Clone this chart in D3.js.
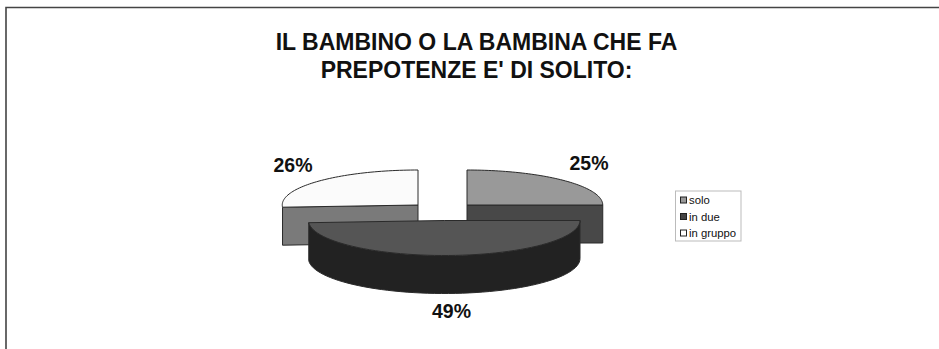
<!DOCTYPE html>
<html>
<head>
<meta charset="utf-8">
<script src="https://cdn.jsdelivr.net/npm/d3@7"></script>
<style>
html, body { margin: 0; padding: 0; background: #fff; }
svg { display: block; }
text { font-family: "Liberation Sans", Arial, sans-serif; fill: #111; }
</style>
</head>
<body>
<svg id="chart" width="939" height="349"></svg>
<script>
const categories = ["solo", "in due", "in gruppo"];
const shares = [25, 49, 26];
const titleLines = ["IL BAMBINO O LA BAMBINA CHE FA", "PREPOTENZE E' DI SOLITO:"];
const topColors = ["#999999", "#555555", "#fbfbfb"];
const wallColors = ["#484848", "#222222", "#7a7a7a"];
const swatchColors = ["#999999", "#444444", "#ffffff"];
// Exploded centre of each slice on the pie's top face
const sliceCentres = [[467, 205], [444.25, 220.5], [418, 205]];
const labelPositions = [[589, 170], [451.5, 317.5], [293, 171.5]];

const W = 939, H = 349;
const radiusX = 135.75, radiusY = 35, depth = 38;
const edge = "#2a2a2a";

const svg = d3.select("#chart");

// Frame: only the top and left rules are inside the page
svg.append("path")
  .attr("d", d3.line()([[6, H], [6, 7.5], [W, 7.5]]))
  .attr("fill", "none").attr("stroke", "#444").attr("stroke-width", 1.6);

svg.selectAll("text.title").data(titleLines).join("text")
  .attr("class", "title")
  .attr("x", 476.5)
  .attr("y", (d, i) => 49.5 + i * 28)
  .attr("text-anchor", "middle")
  .attr("font-size", 23)
  .attr("font-weight", "bold")
  .text(d => d);

const arcs = d3.pie().sort(null)(shares);

// Point on the tilted rim; angle 0 is straight up, clockwise
const rim = (a, c, drop = 0) => [
  c[0] + radiusX * Math.sin(a),
  c[1] - radiusY * Math.cos(a) + drop
];
const rimPath = (a0, a1, c, drop = 0) =>
  d3.range(0, 61).map(i => rim(a0 + (a1 - a0) * i / 60, c, drop));

const line = d3.line();
const pie3d = svg.append("g").attr("stroke", edge).attr("stroke-width", 1).attr("stroke-linejoin", "round");

// Back slices first, then the large front slice over them
[0, 2, 1].forEach(i => {
  const { startAngle: a0, endAngle: a1 } = arcs[i];
  const c = sliceCentres[i];

  if (i === 1) {
    // Curved outer wall of the front slice
    const front = rimPath(a0, a1, c);
    const lower = rimPath(a1, a0, c, depth);
    pie3d.append("path").attr("d", line(front.concat(lower)) + "Z").attr("fill", wallColors[i]);
  } else {
    // Flat cut face left visible by the exploded back slices
    const a = i === 0 ? a1 : a0;
    const p = rim(a, c);
    const face = [c, p, [p[0], p[1] + depth], [c[0], c[1] + depth]];
    pie3d.append("path").attr("d", line(face) + "Z").attr("fill", wallColors[i]);
  }

  const top = [c].concat(rimPath(a0, a1, c));
  pie3d.append("path").attr("d", line(top) + "Z").attr("fill", topColors[i]);
});

svg.selectAll("text.pct").data(shares).join("text")
  .attr("class", "pct")
  .attr("x", (d, i) => labelPositions[i][0])
  .attr("y", (d, i) => labelPositions[i][1])
  .attr("text-anchor", "middle")
  .attr("font-size", 19.5)
  .attr("font-weight", "bold")
  .text(d => d + "%");

// Legend
const legend = svg.append("g");
legend.append("rect")
  .attr("x", 675.5).attr("y", 191).attr("width", 65.5).attr("height", 50)
  .attr("fill", "#fff").attr("stroke", "#bbb").attr("stroke-width", 1);
const row = d3.scalePoint().domain(categories).range([200, 233]);
legend.selectAll("rect.key").data(categories).join("rect")
  .attr("class", "key")
  .attr("x", 680.5).attr("y", d => row(d) - 3)
  .attr("width", 6).attr("height", 6)
  .attr("fill", (d, i) => swatchColors[i])
  .attr("stroke", "#222").attr("stroke-width", 1);
legend.selectAll("text.entry").data(categories).join("text")
  .attr("class", "entry")
  .attr("x", 689).attr("y", d => row(d) + 4)
  .attr("font-size", 11.3)
  .text(d => d);
</script>
</body>
</html>
